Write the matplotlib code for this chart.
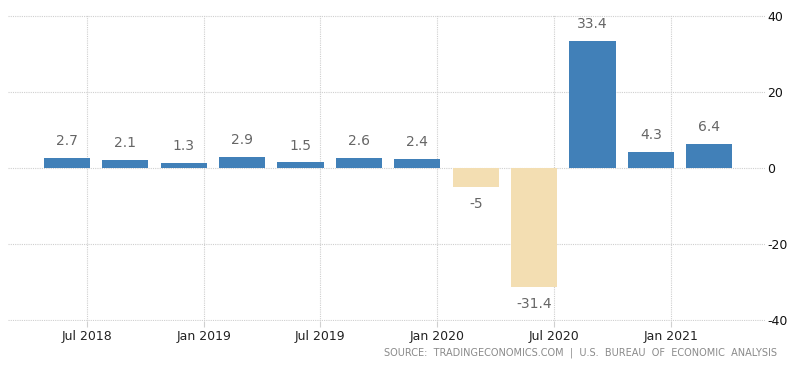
import matplotlib.pyplot as plt
import numpy as np

# quarterly GDP growth rate, annualized (%), Q2 2018 .. Q1 2021
quarters = ["Q2 2018", "Q3 2018", "Q4 2018", "Q1 2019", "Q2 2019", "Q3 2019",
            "Q4 2019", "Q1 2020", "Q2 2020", "Q3 2020", "Q4 2020", "Q1 2021"]
values = [2.7, 2.1, 1.3, 2.9, 1.5, 2.6, 2.4, -5, -31.4, 33.4, 4.3, 6.4]
tick_labels = ["Jul 2018", "Jan 2019", "Jul 2019", "Jan 2020", "Jul 2020", "Jan 2021"]
y_ticks = [-40, -20, 0, 20, 40]

BLUE = "#4180b8"
SAND = "#f3deb2"

fig = plt.figure(figsize=(8, 3.8), dpi=100)
ax = fig.add_axes([0.01, 0.156, 0.946, 0.804])

x = np.arange(len(values))
colors = [BLUE if v >= 0 else SAND for v in values]
ax.bar(x, values, width=0.79, color=colors, zorder=3)

# value labels
for xi, v in zip(x, values):
    lbl = f"{v:g}"
    if v >= 0:
        ax.annotate(lbl, (xi, v), xytext=(0, 7), textcoords="offset points",
                    ha="center", va="bottom", fontsize=10, color="#666666")
    else:
        ax.annotate(lbl, (xi, v), xytext=(0, -7), textcoords="offset points",
                    ha="center", va="top", fontsize=10, color="#666666")

ax.set_xlim(-1.01, 11.95)
ax.set_ylim(-40.2, 40.2)

tick_pos = 0.34 + 2 * np.arange(len(tick_labels))
ax.set_xticks(tick_pos)
ax.set_xticklabels(tick_labels, fontsize=9, color="#222222")
ax.set_yticks(y_ticks)
ax.set_yticklabels([str(t) for t in y_ticks], fontsize=9, color="#111111")
ax.yaxis.tick_right()
ax.tick_params(axis="y", length=0, pad=2)
ax.tick_params(axis="x", length=4, color="#d0d0d0", pad=3)

ax.grid(True, color="#cfcfcf", linestyle=(0, (1, 1)), linewidth=0.8, zorder=0)
for s in ax.spines.values():
    s.set_visible(False)

fig.text(0.971, 0.072, "SOURCE:  TRADINGECONOMICS.COM  |  U.S.  BUREAU  OF  ECONOMIC  ANALYSIS",
         ha="right", va="center", fontsize=7, color="#8a8a8a")

fig.savefig("out.png", dpi=100)
